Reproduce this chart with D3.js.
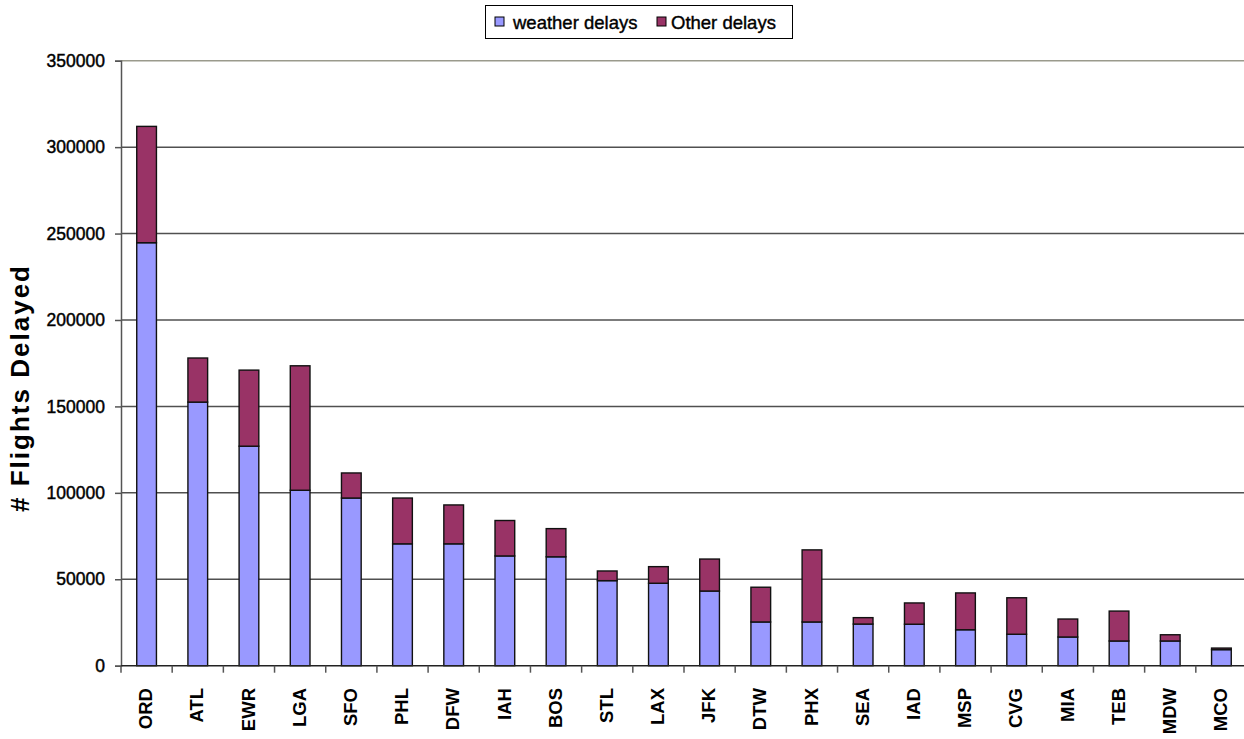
<!DOCTYPE html>
<html>
<head>
<meta charset="utf-8">
<script src="https://cdn.jsdelivr.net/npm/d3@7"></script>
<style>
  html, body { margin: 0; padding: 0; background: #fff; }
  svg { display: block; }
  text { font-family: "Liberation Sans", Arial, sans-serif; fill: #000; }
</style>
</head>
<body>
<svg id="chart" width="1244" height="739"></svg>
<script>
const airports = ["ORD","ATL","EWR","LGA","SFO","PHL","DFW","IAH","BOS","STL","LAX","JFK","DTW","PHX","SEA","IAD","MSP","CVG","MIA","TEB","MDW","MCO"];
const weatherDelays = [244700,152500,127000,101500,97000,70500,70500,63500,63000,49200,47700,43200,25300,25300,24100,24000,20800,18200,16600,14300,14300,9300];
const otherDelays   = [67300,25500,44000,72000,14500,26500,22500,20500,16300,5600,9600,18500,20100,41700,3700,12300,21300,21100,10400,17300,3600,900];
const seriesNames = ["weather delays","Other delays"];
const seriesColors = ["#9999FF","#993366"];
const yTicks = [0,50000,100000,150000,200000,250000,300000,350000];
const yTitle = "# Flights Delayed";

(function(){
const svg = d3.select("#chart");
svg.append("rect").attr("width",1244).attr("height",739).attr("fill","#fff");

const pLeft = 121, pRight = 1247, pTop = 60.7, pBottom = 665.7;
const x = d3.scaleBand().domain(airports).range([pLeft,pRight]).padding(0);
const y = d3.scaleLinear().domain([0,350000]).range([pBottom, pTop]);

// gridlines
svg.append("g").selectAll("line").data(yTicks.filter(d=>d>0)).join("line")
  .attr("x1",pLeft).attr("x2",pRight)
  .attr("y1",d=>y(d)).attr("y2",d=>y(d))
  .attr("stroke",d=>d===350000?"#9a9a8c":"#505050").attr("stroke-width",1.5);

// stacked data
const rows = airports.map((a,i)=>({airport:a, weather:weatherDelays[i], other:otherDelays[i]}));
const stack = d3.stack().keys(["weather","other"]);
const layers = stack(rows);

const barW = x.bandwidth()*0.385;
svg.append("g").selectAll("g").data(layers).join("g")
  .attr("fill",(d,i)=>seriesColors[i])
  .selectAll("rect").data(d=>d).join("rect")
  .attr("x",d=>x(d.data.airport)+x.bandwidth()/2-barW/2)
  .attr("width",barW)
  .attr("y",d=>y(d[1]))
  .attr("height",d=>Math.max(0,y(d[0])-y(d[1])))
  .attr("stroke","#111").attr("stroke-width",1.4);

// y axis
const yAxis = d3.axisLeft(y).tickValues(yTicks).tickFormat(d3.format("d")).tickSize(6).tickPadding(10);
const gy = svg.append("g").attr("transform",`translate(${pLeft},0)`).call(yAxis);
gy.select(".domain").attr("stroke","#555").attr("stroke-width",1.5);
gy.selectAll(".tick line").attr("stroke","#555").attr("stroke-width",1.5);
gy.selectAll(".tick text").attr("font-size","17.5px").attr("font-family","'Liberation Sans', Arial, sans-serif")
  .attr("fill","#000").attr("stroke","#000").attr("stroke-width",0.45);

// x axis line
svg.append("line").attr("x1",pLeft).attr("x2",pRight).attr("y1",pBottom).attr("y2",pBottom)
  .attr("stroke","#222").attr("stroke-width",1.5);
// x ticks at band boundaries
const boundaries = airports.map(a=>x(a));
svg.append("g").selectAll("line").data(boundaries).join("line")
  .attr("x1",d=>d).attr("x2",d=>d).attr("y1",pBottom).attr("y2",pBottom+7)
  .attr("stroke","#555").attr("stroke-width",1.5);
// x labels
svg.append("g").selectAll("text").data(airports).join("text")
  .attr("transform",d=>`translate(${x(d)+x.bandwidth()/2-1},688) rotate(-90)`)
  .attr("text-anchor","end").attr("dy","0.36em")
  .attr("font-size","18.5px").attr("font-weight","bold")
  .text(d=>d);

// y title
svg.append("text")
  .attr("transform","translate(29,389) rotate(-90)")
  .attr("text-anchor","middle")
  .attr("font-size","26px").attr("font-weight","bold")
  .attr("textLength",246).attr("lengthAdjust","spacing")
  .text(yTitle);

// legend
const lg = svg.append("g");
lg.append("rect").attr("x",485.5).attr("y",5.5).attr("width",307).attr("height",33)
  .attr("fill","#fff").attr("stroke","#000").attr("stroke-width",1);
const legendX = [495, 657];
const legendTextX = [513, 671];
seriesNames.forEach((n,i)=>{
  lg.append("rect").attr("x",legendX[i]).attr("y",17).attr("width",9).attr("height",9)
    .attr("fill",seriesColors[i]).attr("stroke","#000").attr("stroke-width",1);
  lg.append("text").attr("x",legendTextX[i]).attr("y",28.5)
    .attr("font-size","18.5px").attr("stroke","#000").attr("stroke-width",0.4).text(n);
});
})();
</script>
</body>
</html>
